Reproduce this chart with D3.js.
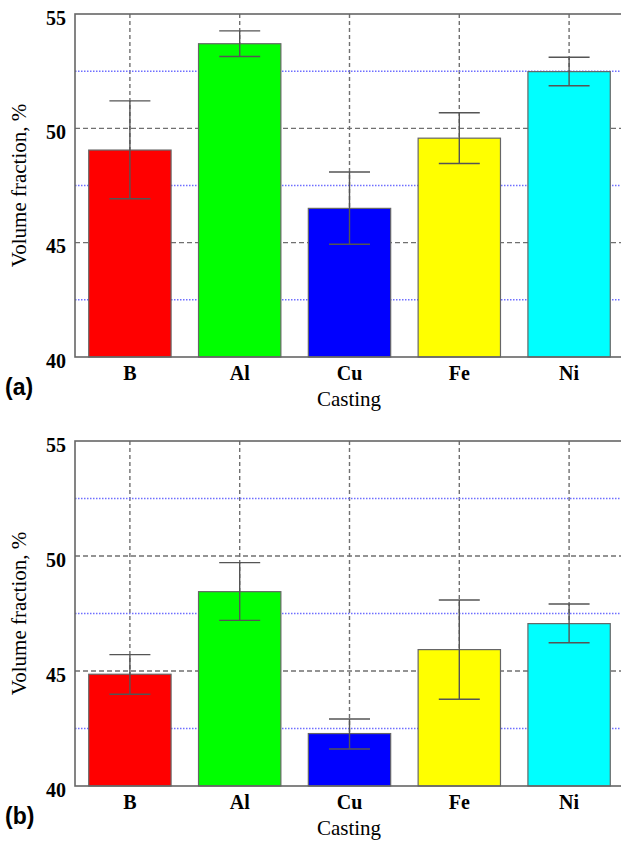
<!DOCTYPE html>
<html>
<head>
<meta charset="utf-8">
<script src="https://cdn.jsdelivr.net/npm/d3@7"></script>
<style>
  body { margin: 0; background: #fff; overflow: hidden; }
  .serif { font-family: 'Liberation Serif', 'DejaVu Serif', serif; }
</style>
</head>
<body>
<script>
// data
var categories = ['B', 'Al', 'Cu', 'Fe', 'Ni'];
var colors = ['#ff0000', '#00ff00', '#0000ff', '#ffff00', '#00ffff'];

var meanA = [49.05, 53.70, 46.50, 49.57, 52.48];
var lowA  = [46.92, 53.14, 44.93, 48.46, 51.86];
var highA = [51.20, 54.26, 48.09, 50.68, 53.11];

var meanB = [44.86, 48.45, 42.28, 45.93, 47.06];
var lowB  = [43.99, 47.20, 41.61, 43.77, 46.23];
var highB = [45.71, 49.71, 42.91, 48.09, 47.91];

var yTicks = [40, 45, 50, 55];
var majorGrid = [45, 50];
var minorGrid = [42.5, 47.5, 52.5];

var W = 621, H = 842;
var svg = d3.select('body')
  .append('svg')
  .attr('width', W)
  .attr('height', H);

function drawPanel(mean, low, high, tag, top, bottom) {
  var left = 75, right = 624;
  var g = svg.append('g');

  var x = d3.scaleBand()
    .domain(categories)
    .range([left, right])
    .paddingInner(0.25)
    .paddingOuter(0.125);
  var y = d3.scaleLinear()
    .domain([40, 55])
    .range([bottom, top]);

  // vertical dashed grid at category centres
  g.selectAll('.vgrid')
    .data(categories)
    .enter()
    .append('line')
    .attr('x1', function (d) { return x(d) + x.bandwidth() / 2; })
    .attr('x2', function (d) { return x(d) + x.bandwidth() / 2; })
    .attr('y1', top)
    .attr('y2', bottom)
    .attr('stroke', '#707070')
    .attr('stroke-width', 1.4)
    .attr('stroke-dasharray', '4,3');

  // horizontal major grid
  g.selectAll('.hgrid')
    .data(majorGrid)
    .enter()
    .append('line')
    .attr('x1', left)
    .attr('x2', right)
    .attr('y1', function (d) { return y(d); })
    .attr('y2', function (d) { return y(d); })
    .attr('stroke', '#707070')
    .attr('stroke-width', 1.4)
    .attr('stroke-dasharray', '5,3');

  // minor dotted blue grid
  g.selectAll('.mgrid')
    .data(minorGrid)
    .enter()
    .append('line')
    .attr('x1', left)
    .attr('x2', right)
    .attr('y1', function (d) { return y(d); })
    .attr('y2', function (d) { return y(d); })
    .attr('stroke', '#6f6fff')
    .attr('stroke-width', 1.5)
    .attr('stroke-dasharray', '1.5,1.5');

  // bars
  g.selectAll('.bar')
    .data(mean)
    .enter()
    .append('rect')
    .attr('x', function (d, i) { return x(categories[i]); })
    .attr('y', function (d) { return y(d); })
    .attr('width', x.bandwidth())
    .attr('height', function (d) { return bottom - y(d); })
    .attr('fill', function (d, i) { return colors[i]; })
    .attr('stroke', '#666')
    .attr('stroke-width', 1.2);

  // error bars
  var cap = 20.5;
  var eb = g.selectAll('.err')
    .data(mean)
    .enter()
    .append('g')
    .attr('transform', function (d, i) {
      return 'translate(' + (x(categories[i]) + x.bandwidth() / 2) + ',0)';
    });
  eb.append('line')
    .attr('x1', 0).attr('x2', 0)
    .attr('y1', function (d, i) { return y(high[i]); })
    .attr('y2', function (d, i) { return y(low[i]); })
    .attr('stroke', '#555').attr('stroke-width', 1.4);
  eb.append('line')
    .attr('x1', -cap).attr('x2', cap)
    .attr('y1', function (d, i) { return y(high[i]); })
    .attr('y2', function (d, i) { return y(high[i]); })
    .attr('stroke', '#555').attr('stroke-width', 1.4);
  eb.append('line')
    .attr('x1', -cap).attr('x2', cap)
    .attr('y1', function (d, i) { return y(low[i]); })
    .attr('y2', function (d, i) { return y(low[i]); })
    .attr('stroke', '#555').attr('stroke-width', 1.4);

  // frame
  g.append('rect')
    .attr('x', left)
    .attr('y', top)
    .attr('width', right - left)
    .attr('height', bottom - top)
    .attr('fill', 'none')
    .attr('stroke', '#666')
    .attr('stroke-width', 1.6);

  // y axis
  var yAxis = d3.axisLeft(y).tickValues(yTicks).tickSize(0).tickPadding(9);
  var ya = g.append('g')
    .attr('transform', 'translate(' + left + ',0)')
    .attr('font-family', null)
    .attr('font-size', null)
    .call(yAxis);
  ya.select('.domain').remove();
  ya.attr('font-family', null).attr('font-size', null);
  ya.selectAll('text')
    .attr('class', 'serif')
    .attr('dy', '0.5em')
    .attr('font-weight', 'bold')
    .attr('font-size', 20)
    .attr('fill', '#000');

  // x axis
  var xAxis = d3.axisBottom(x).tickSize(0).tickPadding(9);
  var xa = g.append('g')
    .attr('transform', 'translate(0,' + bottom + ')')
    .call(xAxis);
  xa.select('.domain').remove();
  xa.attr('font-family', null).attr('font-size', null);
  xa.selectAll('text')
    .attr('class', 'serif')
    .attr('font-weight', 'bold')
    .attr('font-size', 20)
    .attr('fill', '#000');

  // axis titles
  g.append('text')
    .attr('class', 'serif')
    .attr('x', 349)
    .attr('y', bottom + 49)
    .attr('text-anchor', 'middle')
    .attr('font-size', 21)
    .text('Casting');

  g.append('text')
    .attr('class', 'serif')
    .attr('transform', 'translate(26,' + ((top + bottom) / 2) + ') rotate(-90)')
    .attr('text-anchor', 'middle')
    .attr('font-size', 21)
    .text('Volume fraction, %');

  // panel tag
  g.append('text')
    .attr('x', 5)
    .attr('y', bottom + 38)
    .style('font-family', "'Liberation Sans', Arial, sans-serif")
    .style('font-weight', 'bold')
    .style('font-size', '23px')
    .text(tag);
}

drawPanel(meanA, lowA, highA, '(a)', 14, 357);
drawPanel(meanB, lowB, highB, '(b)', 441, 786);
</script>
</body>
</html>
